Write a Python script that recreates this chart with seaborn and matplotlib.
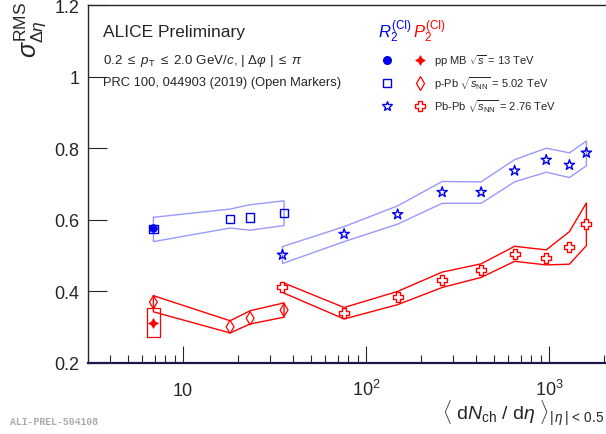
import matplotlib
matplotlib.use('Agg')
import matplotlib.pyplot as plt
import seaborn as sns
import numpy as np

sns.set_style('ticks')
plt.rcParams['font.family'] = ['Liberation Sans', 'DejaVu Sans']
plt.rcParams['mathtext.fontset'] = 'custom'
plt.rcParams['mathtext.rm'] = 'Liberation Sans'
plt.rcParams['mathtext.it'] = 'Liberation Sans:italic'
plt.rcParams['mathtext.bf'] = 'Liberation Sans:bold'

# pp MB 13 TeV
pp_x = [6.9]
pp_r2 = [0.576]
pp_p2 = [0.312]
pp_p2_lo = [0.272]
pp_p2_hi = [0.354]

# p-Pb 5.02 TeV (open markers)
ppb_x = [6.9, 18.1, 23.3, 35.7]
ppb_r2 = [0.575, 0.602, 0.606, 0.619]
ppb_r2_hi = [0.607, 0.630, 0.642, 0.653]
ppb_r2_lo = [0.539, 0.577, 0.571, 0.584]
ppb_p2 = [0.370, 0.301, 0.325, 0.348]
ppb_p2_hi = [0.388, 0.318, 0.346, 0.368]
ppb_p2_lo = [0.343, 0.284, 0.309, 0.328]

# Pb-Pb 2.76 TeV
pbpb_x = [35, 76, 149, 261, 426, 649, 966, 1294, 1601]
pbpb_r2 = [0.502, 0.560, 0.615, 0.677, 0.677, 0.737, 0.767, 0.753, 0.787]
pbpb_r2_hi = [0.525, 0.581, 0.639, 0.707, 0.706, 0.768, 0.800, 0.787, 0.820]
pbpb_r2_lo = [0.478, 0.539, 0.588, 0.646, 0.646, 0.706, 0.733, 0.718, 0.751]
pbpb_p2 = [0.411, 0.339, 0.383, 0.432, 0.460, 0.505, 0.493, 0.523, 0.587]
pbpb_p2_hi = [0.425, 0.355, 0.400, 0.454, 0.477, 0.526, 0.516, 0.567, 0.647]
pbpb_p2_lo = [0.397, 0.323, 0.363, 0.411, 0.439, 0.484, 0.474, 0.476, 0.528]

blue = '#0000ee'
red = '#ff0000'
lblue = '#9999ff'

fig = plt.figure(figsize=(6.06, 4.35), dpi=100)
ax = fig.add_axes([88 / 606, 71 / 435, 518 / 606, 358 / 435])


def band(x, lo, hi, color, lw=1.0):
    xs = np.r_[x, x[::-1], x[0]]
    ys = np.r_[hi, lo[::-1], hi[0]]
    ax.plot(xs, ys, color=color, lw=lw, zorder=1)


band(np.array(ppb_x), np.array(ppb_r2_lo), np.array(ppb_r2_hi), lblue)
band(np.array(pbpb_x), np.array(pbpb_r2_lo), np.array(pbpb_r2_hi), lblue)
band(np.array(ppb_x), np.array(ppb_p2_lo), np.array(ppb_p2_hi), red)
band(np.array(pbpb_x), np.array(pbpb_p2_lo), np.array(pbpb_p2_hi), red)

# pp P2 systematic box
w = 1.089
ax.plot([pp_x[0] / w, pp_x[0] * w, pp_x[0] * w, pp_x[0] / w, pp_x[0] / w],
        [pp_p2_lo[0], pp_p2_lo[0], pp_p2_hi[0], pp_p2_hi[0], pp_p2_lo[0]],
        color=red, lw=0.9, zorder=1)

sns.scatterplot(x=ppb_x, y=ppb_r2, marker='s', s=36, facecolor='none',
                edgecolor=blue, linewidth=1.0, ax=ax, zorder=3)
sns.scatterplot(x=ppb_x, y=ppb_p2, marker='d', s=45, facecolor='none',
                edgecolor=red, linewidth=0.9, ax=ax, zorder=3)
sns.scatterplot(x=pbpb_x, y=pbpb_r2, marker='*', s=60, facecolor='none',
                edgecolor=blue, linewidth=1.0, ax=ax, zorder=3)
sns.scatterplot(x=pbpb_x, y=pbpb_p2, marker='P', s=45, facecolor='white',
                edgecolor=red, linewidth=1.0, ax=ax, zorder=3)
sns.scatterplot(x=pp_x, y=pp_r2, marker='o', s=32, color=blue,
                edgecolor=blue, ax=ax, zorder=4)
sns.scatterplot(x=pp_x, y=pp_p2, marker=(4, 1, 0), s=50, color=red,
                edgecolor=red, linewidth=0.5, ax=ax, zorder=4)

ax.set_xscale('log')
ax.set_xlim(3.03, 2049)
ax.set_ylim(0.2, 1.2)
ax.set_xticks([10, 100, 1000])
ax.set_xticklabels(['10', '$10^2$', '$10^3$'])
ax.set_yticks([0.2, 0.4, 0.6, 0.8, 1.0, 1.2])
ax.set_yticklabels(['0.2', '0.4', '0.6', '0.8', '1', '1.2'])
ax.tick_params(axis='both', which='major', direction='in', length=12,
               width=0.8, labelsize=13, pad=6)
ax.tick_params(axis='y', which='major', length=14)
ax.tick_params(axis='x', which='major', pad=23)
ax.tick_params(axis='x', which='minor', direction='in', length=6, width=0.8)
ax.tick_params(axis='y', which='minor', left=False)
for lbl in ax.get_xticklabels():
    lbl.set_verticalalignment('baseline')
ax.spines['right'].set_visible(False)
ax.spines['bottom'].set_color('#1a1a4a')
ax.spines['bottom'].set_linewidth(1.6)
for s in ['left', 'top']:
    ax.spines[s].set_linewidth(1.0)


def ftext(px, py, s, **kw):
    fig.text(px / 606, 1 - py / 435, s, va='center', **kw)


ftext(103, 33, 'ALICE Preliminary', fontsize=12.5)
ftext(103, 61, r'0.2 $\leq$ $p_{\rm T}$ $\leq$ 2.0 GeV/$c$, | $\Delta\varphi$ | $\leq$ $\pi$', fontsize=9.6)
ftext(103, 83, 'PRC 100, 044903 (2019) (Open Markers)', fontsize=9.3)
ftext(378, 32, r'$R_2^{\rm (CI)}$', fontsize=12, color=blue)
ftext(413, 32, r'$P_2^{\rm (CI)}$', fontsize=12, color=red)

leg_labels = [r'pp MB $\sqrt{s}$ = 13 TeV',
              r'p-Pb $\sqrt{s_{\rm NN}}$ = 5.02 TeV',
              r'Pb-Pb $\sqrt{s_{\rm NN}}$ = 2.76 TeV']
leg_y = [61, 84, 107]
leg_blue = [dict(marker='o', ms=5.5, mfc=blue, mec=blue),
            dict(marker='s', ms=5.8, mfc='none', mec=blue, mew=1.0),
            dict(marker='*', ms=7.5, mfc='none', mec=blue, mew=1.0)]
leg_red = [dict(marker=(4, 1, 0), ms=7, mfc=red, mec=red, mew=0.5),
           dict(marker='d', ms=7, mfc='none', mec=red, mew=0.9),
           dict(marker='P', ms=6.5, mfc='white', mec=red, mew=1.0)]
for lab, py, mb, mr in zip(leg_labels, leg_y, leg_blue, leg_red):
    ax.plot([(387 - 88) / 518], [(364 - py) / 358], transform=ax.transAxes,
            ls='none', clip_on=False, **mb)
    ax.plot([(420 - 88) / 518], [(364 - py) / 358], transform=ax.transAxes,
            ls='none', clip_on=False, **mr)
    ftext(434, py, lab, fontsize=8)

fig.text(30 / 606, 1 - 30 / 435, r'$\sigma^{\rm RMS}_{\Delta\eta}$', fontsize=18,
         rotation=90, ha='center', va='center')
fig.text(604 / 606, 1 - 413 / 435,
         r'$\langle$ d$N_{\rm ch}$ / d$\eta$ $\rangle_{|\,\eta\,|\,<\,0.5}$',
         fontsize=14, ha='right', va='center')
fig.text(10 / 606, 1 - 422 / 435, 'ALI-PREL-504108', fontsize=7,
         family='Liberation Mono', weight='bold', color='#aaaaaa', va='center')

fig.savefig('out.png', dpi=100)
